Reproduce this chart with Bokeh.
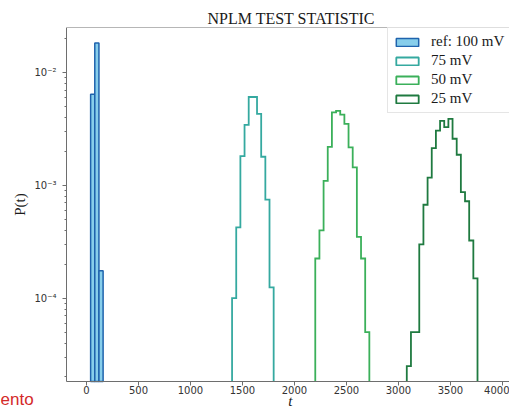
import numpy as np
from bokeh.plotting import figure
from bokeh.models import (Range1d, FixedTicker, Legend, LegendItem, Label,
                          LinearAxis)
from bokeh.embed import file_html
from bokeh.resources import INLINE

# Toy-experiment counts of the NPLM test statistic, common binning
BIN_WIDTH = 40
N_TOYS = 1000

ref_start = 40
ref_counts = [258, 735, 7]

mv75_start = 1400
mv75_counts = [4, 17, 73, 138, 244, 244, 173, 72, 30, 5]

mv50_start = 2200
mv50_counts = [9, 16, 44, 88, 178, 184, 170, 141, 87, 58, 14, 9, 2]

mv25_start = 3080
mv25_counts = [1, 2, 2, 12, 27, 47, 86, 123, 150, 132, 156, 104, 75, 35, 29, 13, 6]

series_labels = ["ref: 100 mV", "75 mV", "50 mV", "25 mV"]
step_colors = ["#35a9a0", "#3bb05a", "#1f7a40"]

x_ticks = [0, 500, 1000, 1500, 2000, 2500, 3000, 3500, 4000]
y_ticks = [1e-4, 1e-3, 1e-2]
y_tick_labels = ["10\u207b\u2074", "10\u207b\u00b3", "10\u207b\u00b2"]

AXIS_COLOR = "#6e6e6e"

# axes box (spines) in data units
X_SPINE = -192
Y_SPINE_LO = 10 ** -4.739
Y_SPINE_HI = 10 ** -1.598

# drawing area reaches the canvas edges so that the caption texts show
PX_PER_X = 0.104          # pixels per unit of t
PX_PER_DECADE = 112.7
LEFT_PAD, TOP_PAD = 66, 27
W, H = 509, 408
x_lo = X_SPINE - LEFT_PAD / PX_PER_X
x_hi = x_lo + W / PX_PER_X
y_lo = 10 ** (-1.598 - (H - TOP_PAD) / PX_PER_DECADE)


def bin_edges(start, counts):
    return start + BIN_WIDTH * np.arange(len(counts) + 1)


def density(counts):
    return np.asarray(counts, dtype=float) / (N_TOYS * BIN_WIDTH)


p = figure(width=W, height=H,
           x_range=Range1d(x_lo, x_hi), y_range=Range1d(y_lo, Y_SPINE_HI),
           y_axis_type="log", output_backend="svg",
           toolbar_location=None, tools="",
           min_border_left=0, min_border_right=0,
           min_border_top=TOP_PAD, min_border_bottom=0)

p.background_fill_color = "white"
p.border_fill_color = "white"
p.outline_line_color = None
p.grid.grid_line_color = None

# reference distribution: filled bars
e = bin_edges(ref_start, ref_counts)
r_ref = p.quad(left=e[:-1], right=e[1:], top=density(ref_counts),
               bottom=Y_SPINE_LO, fill_color="#87CEEB",
               line_color="#1f63ad", line_width=1.5)

# other thresholds: step outlines (+ hollow boxes used as legend swatches)
legend_renderers = [r_ref]
for start, counts, color in zip([mv75_start, mv50_start, mv25_start],
                                [mv75_counts, mv50_counts, mv25_counts],
                                step_colors):
    e = bin_edges(start, counts)
    d = density(counts)
    xs = np.repeat(e, 2)
    ys = np.concatenate([[Y_SPINE_LO], np.repeat(d, 2), [Y_SPINE_LO]])
    p.line(xs, ys, line_color=color, line_width=1.8, line_join="miter")
    swatch = p.quad(left=[np.nan], right=[np.nan], top=[np.nan],
                    bottom=[np.nan], fill_color=None,
                    line_color=color, line_width=1.8)
    legend_renderers.append(swatch)

# title
p.title.text = "NPLM TEST STATISTIC"
p.title.text_font = "Liberation Serif"
p.title.text_font_size = "16px"
p.title.text_font_style = "normal"
p.title.text_color = "#1a1a1a"
p.title.align = "left"
p.title.offset = 207
p.title.standoff = 2

# axes, pinned to the spine positions
xa, ya = p.xaxis[0], p.yaxis[0]
xa.fixed_location = Y_SPINE_LO
xa.bounds = (X_SPINE, x_hi + 1000)
ya.fixed_location = X_SPINE
ya.bounds = (Y_SPINE_LO, Y_SPINE_HI)
for ax in (xa, ya):
    ax.axis_line_color = AXIS_COLOR
    ax.major_tick_line_color = AXIS_COLOR
    ax.minor_tick_line_color = AXIS_COLOR
    ax.major_tick_out = 4
    ax.major_tick_in = 0
    ax.minor_tick_out = 2
    ax.minor_tick_in = 0
    ax.major_label_text_font = "DejaVu Sans"
    ax.major_label_text_font_size = "10px"
    ax.major_label_text_color = "#333333"

xa.ticker = FixedTicker(ticks=x_ticks)
xa.minor_tick_line_color = None
xa.major_label_standoff = 1

minor_y = [k * 10.0 ** ex for ex in range(-5, -1) for k in range(2, 10)]
ya.ticker = FixedTicker(ticks=y_ticks, minor_ticks=minor_y)
ya.major_label_overrides = dict(zip(y_ticks, y_tick_labels))
ya.major_label_standoff = 6
ya.axis_label = "P(t)"
ya.axis_label_text_font = "Liberation Serif"
ya.axis_label_text_font_style = "normal"
ya.axis_label_text_font_size = "15px"
ya.axis_label_text_color = "#1a1a1a"
ya.axis_label_standoff = 3

# top spine
top = LinearAxis(fixed_location=Y_SPINE_HI, bounds=(X_SPINE, x_hi + 1000),
                 ticker=FixedTicker(ticks=[]), axis_line_color=AXIS_COLOR,
                 major_tick_line_color=None, minor_tick_line_color=None)
p.add_layout(top, "above")

# x-axis label
p.add_layout(Label(x=1961, y=8, x_units="data", y_units="screen", text="t",
                   text_font="Liberation Serif", text_font_style="italic",
                   text_font_size="15px", text_color="#1a1a1a",
                   text_align="center", text_baseline="alphabetic"))

# fragment of the surrounding caption
p.add_layout(Label(x=0, y=9, x_units="screen", y_units="screen", text="ento",
                   text_font="Liberation Sans", text_font_size="17px",
                   text_color="#d42a2a", text_baseline="alphabetic"))

legend = Legend(items=[LegendItem(label=lab, renderers=[r])
                       for lab, r in zip(series_labels, legend_renderers)],
                location=(387, 295))
legend.label_text_font = "Liberation Serif"
legend.label_text_font_size = "15px"
legend.label_text_color = "#1a1a1a"
legend.glyph_width = 28
legend.glyph_height = 10
legend.label_standoff = 10
legend.label_height = 17
legend.spacing = 2
legend.padding = 5
legend.border_line_color = "#cccccc"
legend.border_line_width = 1
legend.background_fill_color = "white"
legend.background_fill_alpha = 0.8
p.add_layout(legend)

open("out.html", "w").write(file_html(p, INLINE))
